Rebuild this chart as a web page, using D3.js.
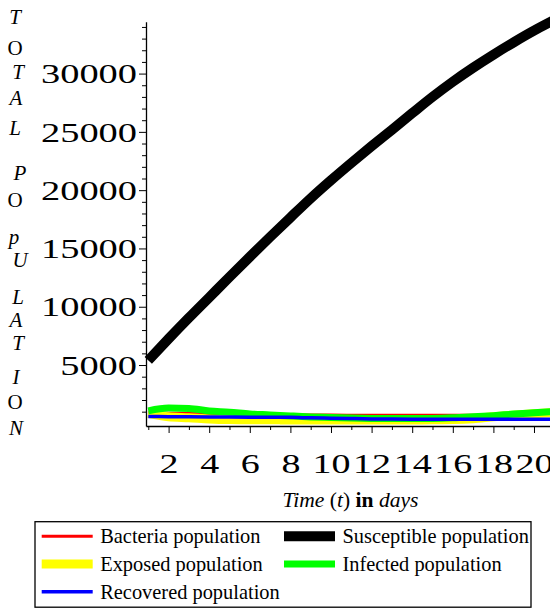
<!DOCTYPE html>
<html>
<head>
<meta charset="utf-8">
<script src="https://cdn.jsdelivr.net/npm/d3@7"></script>
<style>
  body { margin: 0; background: #fff; }
  svg { display: block; font-family: "Liberation Serif", "DejaVu Serif", serif; }
  svg text { font-family: "Liberation Serif", "DejaVu Serif", serif; }
</style>
</head>
<body>
<script>
// Days on the x axis
var days = [1, 2, 3, 4, 5, 6, 7, 8, 9, 10, 11, 12, 13, 14, 15, 16, 17, 18, 19, 20, 21];

// Population values
var bacteria    = [900, 870, 840, 810, 790, 770, 750, 730, 720, 710, 700, 700, 700, 700, 700, 700, 700, 700, 700, 700, 700];
var susceptible = [5400, 7250, 9050, 10800, 12550, 14280, 15980, 17650, 19300, 20850, 22330, 23770, 25180, 26600, 28000, 29300, 30500, 31620, 32680, 33680, 34600];
var exposed     = [850, 560, 480, 380, 320, 300, 300, 290, 290, 280, 280, 280, 280, 290, 300, 320, 400, 560, 700, 820, 930];
var infected    = [1070, 1310, 1270, 1060, 960, 800, 720, 630, 550, 500, 450, 420, 410, 410, 420, 470, 560, 660, 790, 900, 1010];
var recovered   = [580, 570, 560, 550, 540, 530, 520, 510, 470, 440, 410, 380, 360, 350, 340, 340, 340, 340, 340, 340, 340];

// Tick values
var xMajor = [2, 4, 6, 8, 10, 12, 14, 16, 18, 20];
var xMinor = [1, 3, 5, 7, 9, 11, 13, 15, 17, 19];
var yMajor = [5000, 10000, 15000, 20000, 25000, 30000];
var yMinor = [1000, 2000, 3000, 4000, 6000, 7000, 8000, 9000, 11000, 12000, 13000, 14000,
              16000, 17000, 18000, 19000, 21000, 22000, 23000, 24000, 26000, 27000, 28000, 29000,
              31000, 32000, 33000, 34000];

// Legend names and colours
var names = ["Bacteria population", "Susceptible population", "Exposed population", "Infected population", "Recovered population"];
var colors = ["#ff0000", "#000000", "#ffff00", "#00ff00", "#0000ff"];
var widths = [3, 10, 9, 7, 3.5];
var series = [bacteria, susceptible, exposed, infected, recovered];

var width = 550, height = 608;

var svg = d3.select("body").append("svg")
    .attr("width", width)
    .attr("height", height);

// Scales
var x = d3.scaleLinear().domain([0.887, 21]).range([146, 554.3]);
var y = d3.scaleLinear().domain([-230, 34450]).range([426, 21.7]);

// Curves
var line = d3.line()
    .x(function(d) { return x(d[0]); })
    .y(function(d) { return y(d[1]); })
    .curve(d3.curveMonotoneX);

series.forEach(function(s, i) {
  svg.append("path")
     .datum(d3.zip(days, s))
     .attr("fill", "none")
     .attr("stroke", colors[i])
     .attr("stroke-width", widths[i])
     .attr("d", line);
});

// Y axis, minor ticks
svg.append("g")
   .attr("transform", "translate(146,0)")
   .call(d3.axisLeft(y).tickValues(yMinor).tickSize(4).tickFormat(""))
   .call(function(g) { g.select(".domain").remove(); });

// Y axis, major ticks with labels
var yAx = svg.append("g")
   .attr("transform", "translate(146,0)")
   .call(d3.axisLeft(y).tickValues(yMajor).tickSize(7).tickPadding(2).tickSizeOuter(0).tickFormat(d3.format("d")))
   .attr("font-family", null);
yAx.select(".domain").attr("stroke-width", 1.3);
yAx.selectAll("text")
   .attr("font-size", 27)
   .attr("dy", "0.34em")
   .attr("textLength", function(d) { return String(d).length * 19.2; })
   .attr("lengthAdjust", "spacingAndGlyphs");

// X axis, minor ticks
svg.append("g")
   .attr("transform", "translate(0,426)")
   .call(d3.axisBottom(x).tickValues(xMinor).tickSize(4).tickFormat(""))
   .call(function(g) { g.select(".domain").remove(); });

// X axis, major ticks with labels
var xAx = svg.append("g")
   .attr("transform", "translate(0,426)")
   .call(d3.axisBottom(x).tickValues(xMajor).tickSize(7).tickSizeOuter(0))
   .attr("font-family", null);
xAx.select(".domain").attr("stroke-width", 1.3);
xAx.selectAll("text")
   .attr("font-size", 27)
   .attr("y", 47.3)
   .attr("dy", 0)
   .attr("textLength", function(d) { return String(d).length * 19; })
   .attr("lengthAdjust", "spacingAndGlyphs");

// X axis label
var xl = svg.append("text")
   .attr("x", 350.5)
   .attr("y", 506.7)
   .attr("font-size", 20)
   .attr("text-anchor", "middle")
   .attr("textLength", 136)
   .attr("lengthAdjust", "spacingAndGlyphs");
xl.append("tspan").attr("font-style", "italic").text("Time ");
xl.append("tspan").text("(");
xl.append("tspan").attr("font-style", "italic").text("t");
xl.append("tspan").text(") ");
xl.append("tspan").attr("font-weight", "bold").text("in ");
xl.append("tspan").attr("font-style", "italic").text("days");

// Y axis label, one letter per row
var yLetters = ["T", "O", "T", "A", "L", "P", "O", "p", "U", "L", "A", "T", "I", "O", "N"];
var letterX  = [15, 15, 18, 16, 15, 20, 15, 14, 20, 18, 16, 18, 16, 15, 16];
var letterY  = [17, 48, 72, 98, 128, 173, 200, 237, 260, 297, 320, 343, 377, 402, 428];
svg.selectAll(".ylab")
   .data(yLetters)
   .enter().append("text")
   .attr("class", "ylab")
   .attr("x", function(d, i) { return letterX[i]; })
   .attr("y", function(d, i) { return letterY[i] + 7; })
   .attr("font-size", 21)
   .attr("font-style", function(d) { return d == "O" ? "normal" : "italic"; })
   .attr("text-anchor", "middle")
   .text(function(d) { return d; });

// Legend box
svg.append("rect")
   .attr("x", 35)
   .attr("y", 521.7)
   .attr("width", 496)
   .attr("height", 85.5)
   .attr("fill", "none")
   .attr("stroke", "#000")
   .attr("stroke-width", 1.3);

var legend = svg.selectAll(".legend")
   .data(names)
   .enter().append("g")
   .attr("class", "legend")
   .attr("transform", function(d, i) {
     return "translate(" + (i % 2 == 0 ? 41.7 : 284) + "," + (543.3 + Math.floor(i / 2) * 27.7) + ")";
   });

legend.append("line")
   .attr("x1", 0)
   .attr("x2", 51)
   .attr("y1", -7)
   .attr("y2", -7)
   .attr("stroke", function(d, i) { return colors[i]; })
   .attr("stroke-width", function(d, i) { return widths[i]; });

legend.append("text")
   .attr("x", 58.5)
   .attr("y", 0)
   .attr("font-size", 20.4)
   .text(function(d) { return d; });
</script>
</body>
</html>
